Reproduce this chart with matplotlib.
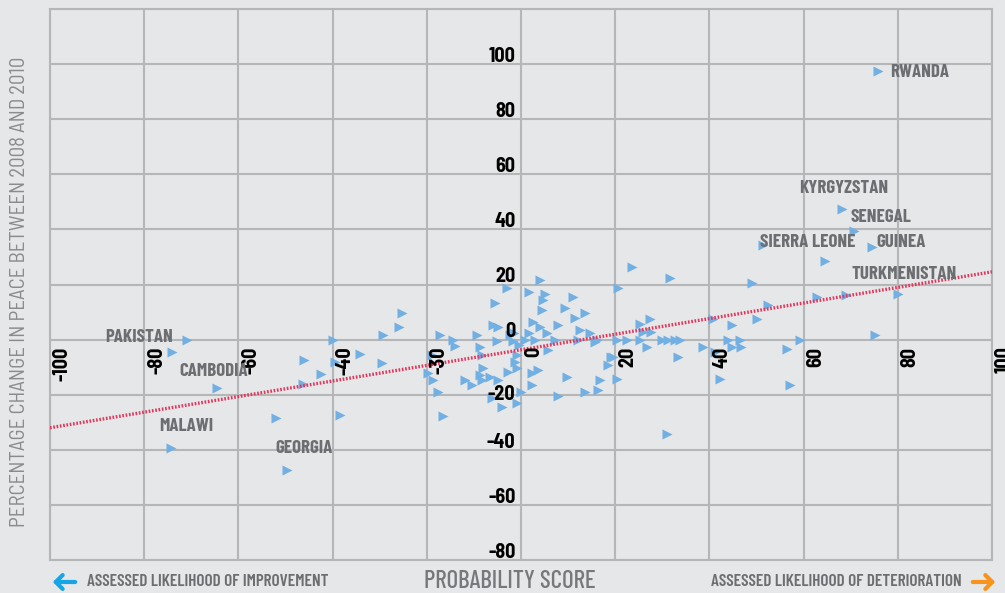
import matplotlib
matplotlib.use('Agg')
import matplotlib.pyplot as plt
from matplotlib.patches import FancyArrowPatch

# probability score (x) vs % change in peace 2008-2010 (y)
score = [-71, -74, -64.5, -74.3, -49.7, -52, -46, -42.5, -46.3, -40, -39.5, -38.4,
         -25.3, -26, -29.4, -34.2, -29.6,
         -17.2, -14.4, -14.0, -19.0, -19.7, -18.6, -17.6, -16.5,
         -9.4, -8.7, -8.3, -5.2, -2.3, -1.6, -3.0, -5.5, -5.9, -4.8,
         -8.0, -8.7, -6.6, -11.9, -10.5, -8.3, -4.8, -2.7, -0.9, -6.2, -4.1, -0.9,
         4.0, 1.6, 5.1, 4.7, 11.1, 4.4, 9.3, 11.5, 13.6, 2.6, 4.0, 7.9, 12.5, 14.6,
         1.6, 5.5, 0.8, 3.0, 7.2, 12.2, 15.7, 5.8, -0.9, -1.2, 2.3, 3.7, 2.3, 9.7,
         16.8, 18.5, 0.1, 7.9, 13.6, 16.4, -1.5, -0.5, 19.6, 20.3, 16.1,
         23.5, 31.6, 20.7, 27.4, 25.3, 26.0, 27.7, 20.3, 22.4, 25.3, 29.9, 31.3,
         32.7, 33.8, 26.7, 38.7, 19.2, 33.4, 30.9,
         49.0, 62.8, 52.5, 40.8, 44.7, 50.0, 44.0, 46.5, 41.2, 44.7, 46.8, 56.4,
         59.2, 42.3, 57.1, 75.2,
         75.9, 68.1, 70.6, 74.5, 51.4, 64.5, 69.1, 80.1]
change = [0, -4.5, -17.5, -39.3, -47.3, -28.5, -7.4, -12.5, -16.2, 0, -8, -27.4,
          9.5, 4.7, 1.7, -5.3, -8.4,
          1.7, -0.1, -2.4, -5.6, -12.2, -14.7, -19.1, -27.6,
          1.7, -2.6, -5.6, -0.5, 1.7, -0.5, 18.6, 13.4, 5.3, 4.6,
          -10.4, -12.8, -13.5, -14.7, -16.5, -14.7, -14.7, -11.6, -10.4, -21.3, -24.4, -23.1,
          21.6, 17.4, 16.4, 14.4, 15.6, 10.7, 11.4, 7.7, 9.5, 6.5, 4.7, 5.3, 3.5, 2.3,
          2.3, 2.3, -0.1, -0.1, -0.1, -0.1, -0.8, -3.8, -5.6, -8.0, -12.2, -11.0, -16.5, -13.5,
          -14.7, -9.2, -18.9, -20.4, -19.1, -18.3, 2.5, -2.0, -6.4, -14.4, 0,
          26.5, 22.2, 18.6, 7.4, 5.7, 2.9, 2.9, -0.1, -0.1, -0.1, -0.1, -0.1,
          -0.1, -0.1, -2.6, -2.6, -6.2, -6.4, -34.4,
          20.4, 15.6, 12.6, 7.4, 5.3, 7.4, -0.1, -0.1, -4.4, -2.6, -2.6, -3.5,
          -0.1, -14.4, -16.5, 1.7,
          97.5, 47.4, 39.5, 33.5, 34.3, 28.5, 16.2, 16.5]

countries = ['PAKISTAN', 'CAMBODIA', 'MALAWI', 'GEORGIA', 'RWANDA', 'KYRGYZSTAN',
             'SENEGAL', 'SIERRA LEONE', 'GUINEA', 'TURKMENISTAN']
country_x = [-88.3, -72.6, -76.9, -52.2, 78.3, 59.0, 69.9, 50.7, 75.4, 70.1]
country_y = [0.6, -11.4, -31.7, -39.7, 97.1, 55.0, 44.5, 35.4, 35.4, 23.8]

trend_slope = 0.283
trend_intercept = -3.7

xticks = [-100, -80, -60, -40, -20, 0, 20, 40, 60, 80, 100]
xtick_labels = ['-100', '-80', '-60', '-40', '-30', '0', '20', '40', '60', '80', '100']
yticks = [-80, -60, -40, -20, 0, 20, 40, 60, 80, 100]

BG = '#e6e7e8'
GRID = '#b5b6b8'
SEMI = ['Barlow Semi Condensed', 'Liberation Sans Narrow', 'DejaVu Sans']
COND = ['Barlow Condensed', 'Barlow Semi Condensed', 'Liberation Sans Narrow', 'DejaVu Sans']

fig = plt.figure(figsize=(10.05, 5.93), dpi=100, facecolor=BG)
ax = fig.add_axes([50 / 1005, 1 - 560 / 593, 942 / 1005, 551 / 593])
ax.set_facecolor(BG)
ax.set_xlim(-100, 100)
ax.set_ylim(-80, 120)
ax.set_xticks(xticks)
ax.set_yticks(yticks + [120])
ax.tick_params(length=0, labelbottom=False, labelleft=False)
ax.grid(True, color=GRID, lw=1.5)
ax.set_axisbelow(True)
for s in ax.spines.values():
    s.set_color(GRID)
    s.set_linewidth(1.5)

ax.scatter(score, change, marker='>', s=52, color='#72afe3', lw=0, zorder=3)

tx = [-100, 100]
ax.plot(tx, [trend_slope * v + trend_intercept for v in tx], color='#e2365c',
        lw=2.4, ls=(0, (0.5, 0.5)), zorder=4)

for v, lab in zip(xticks, xtick_labels):
    ax.annotate(lab, (v, 0), xytext=(9, -5), textcoords='offset points',
                rotation=90, ha='center', va='top', fontsize=14.5,
                fontweight='bold', family=SEMI, color='black', zorder=5)
for v in yticks:
    dy = 0 if v == -20 else 5.5
    ax.annotate(str(v), (0, v), xytext=(-4, dy), textcoords='offset points',
                ha='right', va='center', fontsize=14.5, fontweight='bold',
                family=SEMI, color='black', zorder=5)

for name, x, y in zip(countries, country_x, country_y):
    ax.text(x, y, name, ha='left', va='center', fontsize=13.6,
            fontweight='bold', family=COND, color='#6d6e71', zorder=5)

fig.text(20 / 1005, 1 - 292 / 593, 'PERCENTAGE CHANGE IN PEACE BETWEEN 2008 AND 2010',
         rotation=90, ha='center', va='center', fontsize=15, family=SEMI,
         color='#8a8b8d')
fig.text(510 / 1005, 1 - 582 / 593, 'PROBABILITY SCORE', ha='center', va='center',
         fontsize=18, fontweight='medium', family=COND, color='#77787b')
fig.text(87 / 1005, 1 - 582 / 593, 'ASSESSED LIKELIHOOD OF IMPROVEMENT', ha='left',
         va='center', fontsize=12.4, fontweight='semibold', family=COND, color='#6d6e71')
fig.text(962 / 1005, 1 - 582 / 593, 'ASSESSED LIKELIHOOD OF DETERIORATION', ha='right',
         va='center', fontsize=12.4, fontweight='semibold', family=COND, color='#6d6e71')

fig.patches.append(FancyArrowPatch(
    (78 / 1005, 1 - 582 / 593), (50 / 1005, 1 - 582 / 593), transform=fig.transFigure,
    arrowstyle='->,head_length=5,head_width=5', lw=3, color='#16a6e6', mutation_scale=1))
fig.patches.append(FancyArrowPatch(
    (970 / 1005, 1 - 582 / 593), (998 / 1005, 1 - 582 / 593), transform=fig.transFigure,
    arrowstyle='->,head_length=5,head_width=5', lw=3, color='#f7941d', mutation_scale=1))

fig.savefig('out.png', dpi=100, facecolor=BG)
